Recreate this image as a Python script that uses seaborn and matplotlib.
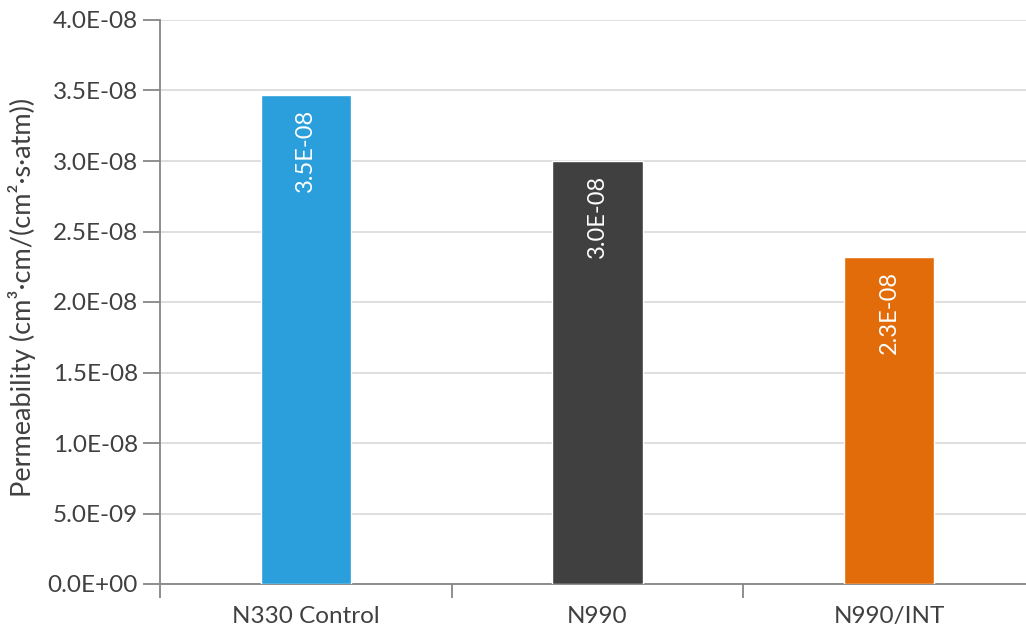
import matplotlib
matplotlib.use("Agg")
import matplotlib.pyplot as plt
import seaborn as sns
import pandas as pd
from matplotlib.ticker import FixedLocator, FuncFormatter

categories = ["N330 Control", "N990", "N990/INT"]
permeability = [3.47e-08, 3.00e-08, 2.32e-08]
value_labels = ["3.5E-08", "3.0E-08", "2.3E-08"]
bar_colors = ["#2A9FDB", "#404040", "#E36C0A"]
y_ticks = [0, 5e-09, 1e-08, 1.5e-08, 2e-08, 2.5e-08, 3e-08, 3.5e-08, 4e-08]

sns.set_theme(style="white")
plt.rcParams["font.family"] = ["Lato", "DejaVu Sans"]

df = pd.DataFrame({"sample": categories, "perm": permeability})

fig = plt.figure(figsize=(10.26, 6.36), dpi=100)
ax = fig.add_axes([160 / 1026, 52 / 636, 875 / 1026, 564 / 636])

sns.barplot(data=df, x="sample", y="perm", hue="sample", palette=bar_colors,
            width=0.31, saturation=1, legend=False, ax=ax, zorder=3)

ax.set_ylim(0, 4e-08)
ax.set_xlim(-0.5, 2.5)
ax.yaxis.set_major_locator(FixedLocator(y_ticks))
ax.yaxis.set_major_formatter(FuncFormatter(lambda v, p: f"{v:.1E}"))
ax.grid(axis="y", color="#d9d9d9", linewidth=1.2, zorder=0)
ax.set_axisbelow(True)

for s in ["top", "right"]:
    ax.spines[s].set_visible(False)
for s in ["left", "bottom"]:
    ax.spines[s].set_color("#868686")
    ax.spines[s].set_linewidth(1.3)

ax.tick_params(axis="y", which="major", direction="out", length=12, width=1.3,
               color="#868686", labelsize=17.5, labelcolor="#404040", pad=4, left=True)
ax.tick_params(axis="x", which="major", length=0, labelsize=17.5, labelcolor="#404040", pad=16)
ax.xaxis.set_minor_locator(FixedLocator([-0.5, 0.5, 1.5]))
ax.tick_params(axis="x", which="minor", direction="out", length=10, width=1.3,
               color="#868686", bottom=True)

ax.set_xlabel("")
ax.set_ylabel("Permeability (cm³·cm/(cm²·s·atm))", fontsize=19.5, color="#404040")
ax.yaxis.set_label_coords(-0.142, 0.508)

for i, (v, lab) in enumerate(zip(permeability, value_labels)):
    ax.annotate(lab, xy=(i, v), xytext=(0, -10), textcoords="offset points",
                rotation=90, ha="center", va="top", color="white",
                fontsize=17, zorder=4)

fig.savefig("out.png", dpi=100)
